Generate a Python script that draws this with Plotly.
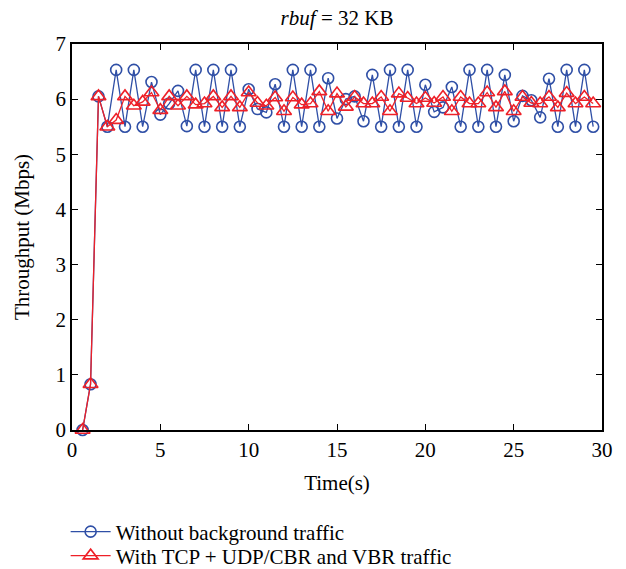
import plotly.graph_objects as go

# Sampling instants (s)
time_s = [0.6, 1.05, 1.5, 2.0, 2.5, 3.0, 3.5, 4.0, 4.5, 5.0, 5.5, 6.0, 6.5, 7.0, 7.5,
          8.0, 8.5, 9.0, 9.5, 10.0, 10.5, 11.0, 11.5, 12.0, 12.5, 13.0, 13.5, 14.0,
          14.5, 15.0, 15.5, 16.0, 16.5, 17.0, 17.5, 18.0, 18.5, 19.0, 19.5, 20.0,
          20.5, 21.0, 21.5, 22.0, 22.5, 23.0, 23.5, 24.0, 24.5, 25.0, 25.5, 26.0,
          26.5, 27.0, 27.5, 28.0, 28.5, 29.0, 29.5]

# Throughput without background traffic (Mbps)
no_background = [0.0, 0.83, 6.05, 5.5, 6.53, 5.5, 6.53, 5.5, 6.31, 5.72, 5.92, 6.15,
                 5.51, 6.53, 5.5, 6.53, 5.5, 6.53, 5.5, 6.18, 5.82, 5.76, 6.27, 5.5,
                 6.53, 5.5, 6.53, 5.5, 6.38, 5.65, 6.0, 6.05, 5.6, 6.44, 5.5, 6.53,
                 5.5, 6.53, 5.5, 6.26, 5.77, 5.85, 6.22, 5.5, 6.53, 5.5, 6.53, 5.5,
                 6.44, 5.6, 6.06, 5.98, 5.67, 6.37, 5.5, 6.53, 5.5, 6.53, 5.5]

# Throughput with TCP + UDP/CBR and VBR traffic (Mbps)
with_background = [0.0, 0.83, 6.05, 5.5, 5.62, 6.05, 5.88, 5.95, 6.12, 5.8, 6.05,
                   5.88, 6.05, 5.9, 5.92, 6.05, 5.85, 6.05, 5.85, 6.12, 5.93, 5.88,
                   6.03, 5.78, 6.03, 5.9, 5.92, 6.14, 5.78, 6.1, 5.86, 6.04, 5.92,
                   5.92, 6.04, 5.78, 6.1, 6.02, 5.92, 6.02, 5.93, 6.04, 5.78, 6.04,
                   5.92, 5.92, 6.12, 5.85, 6.14, 5.78, 6.04, 5.93, 5.92, 6.04, 5.85,
                   6.11, 5.92, 6.04, 5.92]

FONT = "Liberation Serif"
FS = 21
BLUE = "#2f4fa6"
RED = "#ee2028"
H = 569

fig = go.Figure()
fig.add_trace(go.Scatter(
    x=time_s, y=no_background, mode="lines+markers",
    name="Without background traffic", legend="legend",
    line=dict(color=BLUE, width=1.3),
    marker=dict(symbol="circle-open", size=11, color=BLUE, line=dict(width=1.6)),
    cliponaxis=False,
))
fig.add_trace(go.Scatter(
    x=time_s, y=with_background, mode="lines+markers",
    name="With TCP + UDP/CBR and VBR traffic", legend="legend2",
    line=dict(color=RED, width=1.3),
    marker=dict(symbol="triangle-up-open", size=13, color=RED, line=dict(width=1.6)),
    cliponaxis=False,
))

axis_common = dict(
    showline=True, linecolor="black", linewidth=1.5, mirror="ticks",
    ticks="inside", ticklen=6, tickwidth=1.2, tickcolor="black",
    showgrid=False, zeroline=False, automargin=False,
    tickfont=dict(family=FONT, size=FS, color="black"),
)

legend_common = dict(x=-0.012, xanchor="left", yref="container", yanchor="middle",
                     font=dict(family=FONT, size=FS, color="black"),
                     bgcolor="rgba(0,0,0,0)", itemwidth=40)

fig.update_layout(
    width=626, height=H,
    margin=dict(l=72, r=24, t=44, b=139, autoexpand=False),
    paper_bgcolor="white", plot_bgcolor="white",
    font=dict(family=FONT, size=FS, color="black"),
    title=dict(text="<i>rbuf</i> = 32 KB", x=(72 + 265) / 626, xanchor="center",
               y=1 - 18 / H, yanchor="middle",
               font=dict(family=FONT, size=FS, color="black")),
    xaxis=dict(range=[0, 30], tickvals=[0, 5, 10, 15, 20, 25, 30],
               title=dict(text="Time(s)", standoff=14,
                          font=dict(family=FONT, size=FS)), **axis_common),
    yaxis=dict(range=[0, 7], tickvals=[0, 1, 2, 3, 4, 5, 6, 7],
               title=dict(text="Throughput (Mbps)", standoff=20,
                          font=dict(family=FONT, size=FS)), **axis_common),
    legend=dict(y=1 - 532 / H, **legend_common),
    legend2=dict(y=1 - 556 / H, **legend_common),
    showlegend=True,
)

fig.write_html("out.html")
